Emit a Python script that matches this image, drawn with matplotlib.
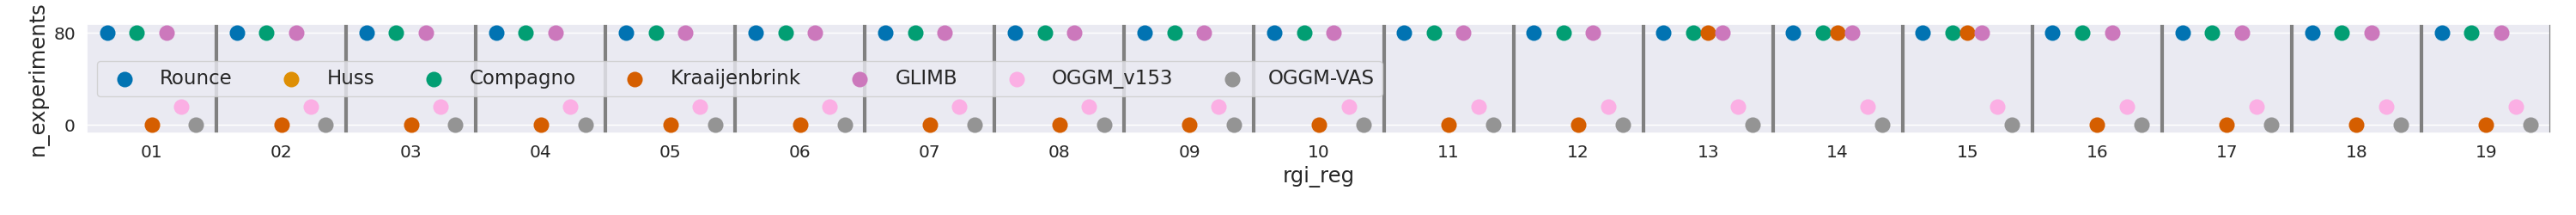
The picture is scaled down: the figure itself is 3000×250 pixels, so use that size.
import numpy as np
import matplotlib

matplotlib.use("Agg")
import matplotlib.pyplot as plt
import seaborn as sns

# RGI regions on the x axis
RGI_REGS = [f"{i:02d}" for i in range(1, 20)]

MODELS = ["Rounce", "Huss", "Compagno", "Kraaijenbrink", "GLIMB", "OGGM_v153", "OGGM-VAS"]

# n_experiments per region, one list per model (NaN = no data)
ROUNCE = [80] * 19
HUSS = [np.nan] * 19
COMPAGNO = [80] * 19
KRAAIJENBRINK = [0, 0, 0, 0, 0, 0, 0, 0, 0, 0, 0, 0, 80, 80, 80, 0, 0, 0, 0]
GLIMB = [80] * 19
OGGM_V153 = [16] * 19
OGGM_VAS = [0] * 19

MODEL_COLORS = {
    "Rounce": "#0173B2",
    "Huss": "#DE8F05",
    "Compagno": "#029E73",
    "Kraaijenbrink": "#D55E00",
    "GLIMB": "#CC78BC",
    "OGGM_v153": "#FBAFE4",
    "OGGM-VAS": "#949494",
}

Y_TICKS = [0, 80]


def main():
    sns.set_theme(style="darkgrid")
    plt.rcParams.update({"font.family": ["DejaVu Sans"]})

    series = {
        "Rounce": ROUNCE,
        "Huss": HUSS,
        "Compagno": COMPAGNO,
        "Kraaijenbrink": KRAAIJENBRINK,
        "GLIMB": GLIMB,
        "OGGM_v153": OGGM_V153,
        "OGGM-VAS": OGGM_VAS,
    }

    fig = plt.figure(figsize=(30, 2.5), dpi=100)
    ax = fig.add_axes([0.0337, 0.38, 0.9566, 0.508])

    x = np.arange(len(RGI_REGS))
    n = len(MODELS)
    width = 0.8
    for i, model in enumerate(MODELS):
        # dodge each model inside its region slot
        offset = -width / 2 + width / n * (i + 0.5)
        ax.scatter(
            x + offset,
            np.asarray(series[model], dtype=float),
            s=13**2,
            color=MODEL_COLORS[model],
            linewidths=0,
            label=model,
            zorder=3,
        )

    for i in range(len(RGI_REGS)):
        ax.axvline(i + 0.5, color="grey", linewidth=3, zorder=2)

    ax.set_xlim(-0.5, len(RGI_REGS) - 0.5)
    ax.set_ylim(-7.3, 87.7)
    ax.set_xticks(x)
    ax.set_xticklabels(RGI_REGS)
    ax.set_yticks(Y_TICKS)
    ax.grid(False, axis="x")
    ax.tick_params(labelsize=14.5)
    ax.set_xlabel("rgi_reg", fontsize=17.5)
    ax.set_ylabel("n_experiments", fontsize=17.5)

    ax.legend(loc="center left", ncol=7, fontsize=16.5)

    fig.savefig("out.png", dpi=100)
    plt.close(fig)


if __name__ == "__main__":
    main()
